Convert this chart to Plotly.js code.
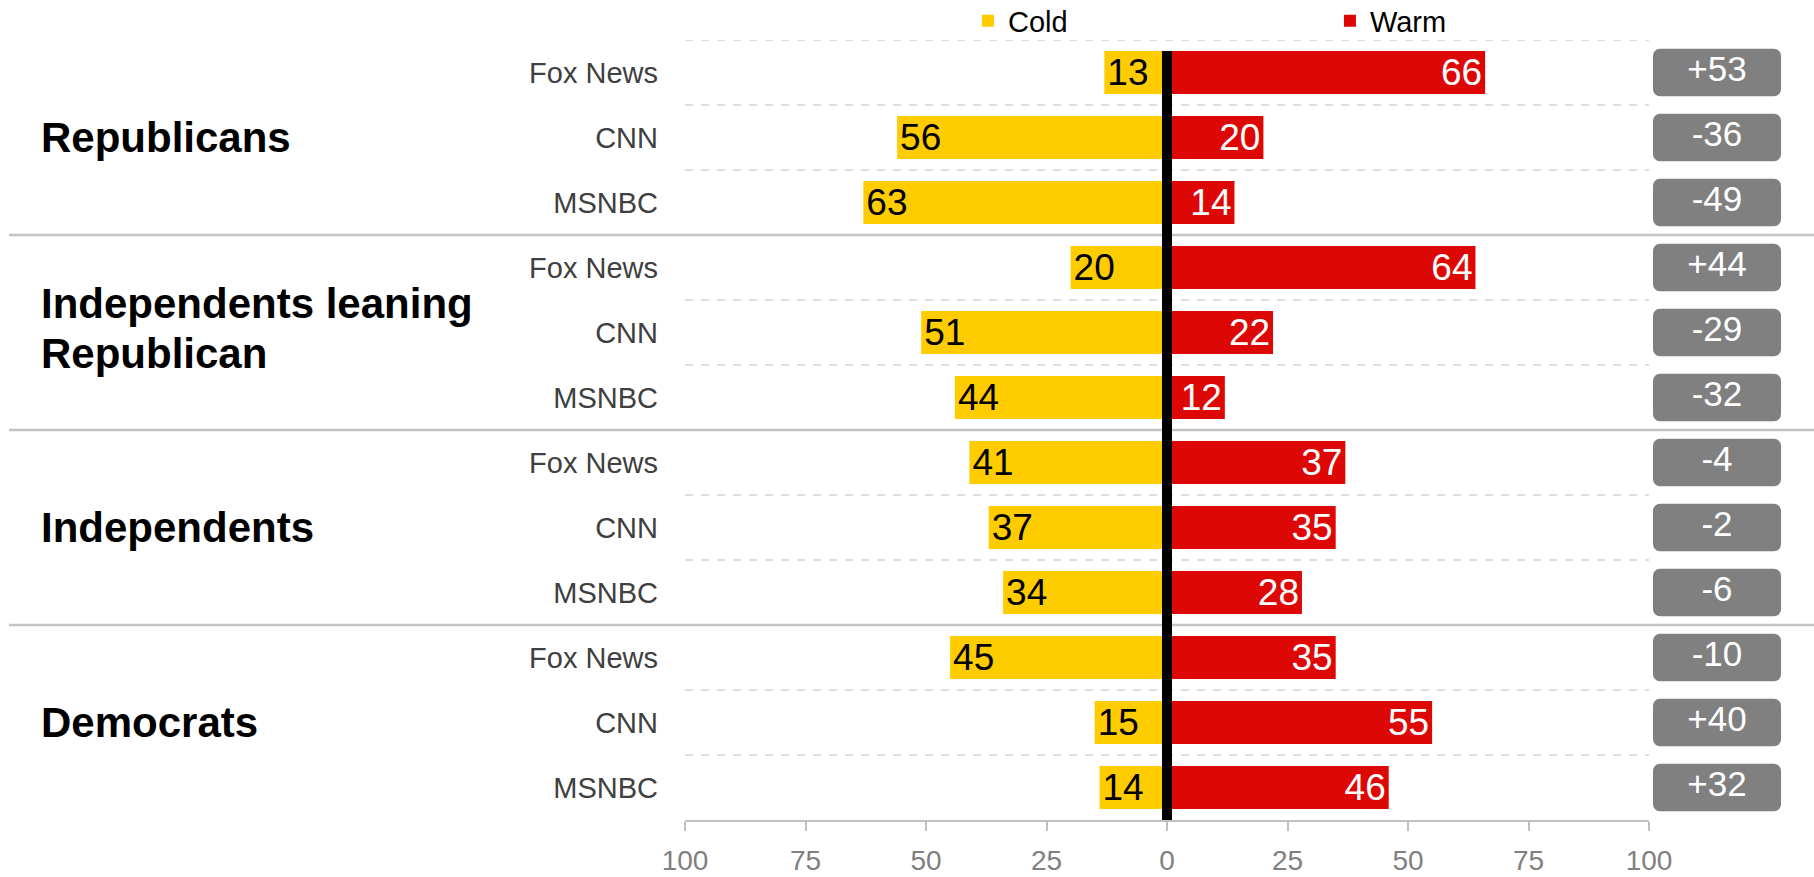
<!DOCTYPE html>
<html>
<head>
<meta charset="utf-8">
<script src="https://cdn.plot.ly/plotly-3.0.1.min.js"></script>
<style>
  html, body { margin: 0; padding: 0; background: #ffffff; }
  #chart { width: 1814px; height: 877px; }
</style>
</head>
<body>
<div id="chart"></div>
<script>
// ---- data ----
const groups = ['Republicans', 'Independents leaning<br>Republican', 'Independents', 'Democrats'];
const outlets = ['Fox News', 'CNN', 'MSNBC'];
const cold = [13, 56, 63, 20, 51, 44, 41, 37, 34, 45, 15, 14];
const warm = [66, 20, 14, 64, 22, 12, 37, 35, 28, 35, 55, 46];
const net = ['+53', '-36', '-49', '+44', '-29', '-32', '-4', '-2', '-6', '-10', '+40', '+32'];
const xTickVals = [-100, -75, -50, -25, 0, 25, 50, 75, 100];
const xTickText = ['100', '75', '50', '25', '0', '25', '50', '75', '100'];

// ---- derived ----
const rows = [];
const rowLabels = [];
groups.forEach((g, gi) => outlets.forEach((o, oi) => { rows.push(gi * outlets.length + oi); rowLabels.push(o); }));
const coldNeg = cold.map(v => -v);

const FONT = 'Liberation Sans, Arial, sans-serif';
const YELLOW = '#FFCC00';
const RED = '#DD0806';
const BOXGRAY = '#808080';
const BAR_W = 0.66;

const traces = [
  {
    type: 'bar', orientation: 'h', name: 'Cold',
    y: rows, x: coldNeg, text: cold.map(String),
    width: BAR_W,
    marker: { color: YELLOW, line: { width: 0 } },
    textposition: 'inside', insidetextanchor: 'end', textangle: 0, constraintext: 'none',
    insidetextfont: { family: FONT, size: 37, color: '#000000' },
    hoverinfo: 'skip', cliponaxis: false
  },
  {
    type: 'bar', orientation: 'h', name: 'Warm',
    y: rows, x: warm, text: warm.map(String),
    width: BAR_W,
    marker: { color: RED, line: { width: 0 } },
    textposition: 'inside', insidetextanchor: 'end', textangle: 0, constraintext: 'none',
    insidetextfont: { family: FONT, size: 37, color: '#ffffff' },
    hoverinfo: 'skip', cliponaxis: false
  },
  // net boxes: two halves with rounded outer corners
  {
    type: 'bar', orientation: 'h', showlegend: false,
    y: rows, x: rows.map(() => 0.5), xaxis: 'x2', yaxis: 'y',
    width: 0.73, marker: { color: BOXGRAY, cornerradius: 7, line: { width: 0 } },
    hoverinfo: 'skip'
  },
  {
    type: 'bar', orientation: 'h', showlegend: false,
    y: rows, x: rows.map(() => -0.5), xaxis: 'x2', yaxis: 'y',
    width: 0.73, marker: { color: BOXGRAY, cornerradius: 7, line: { width: 0 } },
    hoverinfo: 'skip'
  },
  {
    type: 'scatter', mode: 'text', showlegend: false,
    y: rows, x: rows.map(() => 0), xaxis: 'x2', yaxis: 'y',
    text: net, textposition: 'middle center',
    textfont: { family: FONT, size: 35, color: '#ffffff' },
    hoverinfo: 'skip', cliponaxis: false
  }
];

// decorative lines
const shapes = [];
const nRows = rows.length;
for (let i = 0; i < nRows; i++) {
  const yb = i - 0.5;
  if (i > 0 && i % outlets.length === 0) {
    shapes.push({ type: 'line', xref: 'paper', yref: 'y', x0: 0.005, x1: 1, y0: yb, y1: yb,
      line: { color: '#c4c4c4', width: 2.5 }, layer: 'below' });
  } else {
    shapes.push({ type: 'line', xref: 'x', yref: 'y', x0: -100, x1: 100, y0: yb, y1: yb,
      line: { color: '#d4d4d4', width: 1.5, dash: '8px,8px' }, layer: 'below' });
  }
}
// thick zero line
shapes.push({ type: 'line', xref: 'x', yref: 'y', x0: 0, x1: 0, y0: -0.5 + (1 - BAR_W) / 2, y1: nRows - 0.5,
  line: { color: '#000000', width: 10 }, layer: 'above' });

// group labels, one annotation per text line for tight line spacing
const annotations = [];
const LINE_H = 50;
groups.forEach((g, gi) => {
  const lines = g.split('<br>');
  lines.forEach((ln, k) => {
    annotations.push({
      xref: 'paper', yref: 'y', x: 0.0215, y: gi * outlets.length + (outlets.length - 1) / 2,
      yshift: ((lines.length - 1) / 2 - k) * LINE_H + (lines.length > 1 ? 4 : 0),
      xanchor: 'left', yanchor: 'middle', align: 'left', showarrow: false,
      text: ln, font: { family: FONT, size: 42, color: '#000000', weight: 'bold' }
    });
  });
});

const layout = {
  width: 1814, height: 877,
  margin: { l: 0, r: 0, t: 40, b: 57, pad: 0, autoexpand: false },
  paper_bgcolor: '#ffffff', plot_bgcolor: 'rgba(0,0,0,0)',
  font: { family: FONT, color: '#000000' },
  barmode: 'overlay',
  showlegend: true,
  legend: {
    orientation: 'h', xref: 'container', yref: 'container',
    x: 0.5336, xanchor: 'left', y: 1 - 21 / 877, yanchor: 'middle',
    font: { family: FONT, size: 29, color: '#000000' },
    entrywidth: 317, entrywidthmode: 'pixels', bgcolor: 'rgba(0,0,0,0)',
    traceorder: 'normal'
  },
  xaxis: {
    domain: [685 / 1814, 1649 / 1814], range: [-100, 100], fixedrange: true,
    tickvals: xTickVals, ticktext: xTickText,
    showline: true, linecolor: '#c0c0c0', linewidth: 2,
    ticks: 'outside', ticklen: 9, tickwidth: 2, tickcolor: '#c0c0c0',
    tickfont: { family: FONT, size: 28, color: '#808080' },
    ticklabelstandoff: 5,
    showgrid: false, zeroline: false
  },
  xaxis2: {
    domain: [1653 / 1814, 1781 / 1814], range: [-0.5, 0.5], anchor: 'y', fixedrange: true,
    showticklabels: false, showgrid: false, zeroline: false, showline: false
  },
  yaxis: {
    range: [nRows - 0.5, -0.5], fixedrange: true,
    tickvals: rows, ticktext: rowLabels,
    tickfont: { family: FONT, size: 29, color: '#404040' },
    ticks: '', ticklabelstandoff: 26,
    showgrid: false, zeroline: false, showline: false
  },
  shapes: shapes,
  annotations: annotations
};

Plotly.newPlot('chart', traces, layout, { displayModeBar: false, staticPlot: true });
</script>
</body>
</html>
